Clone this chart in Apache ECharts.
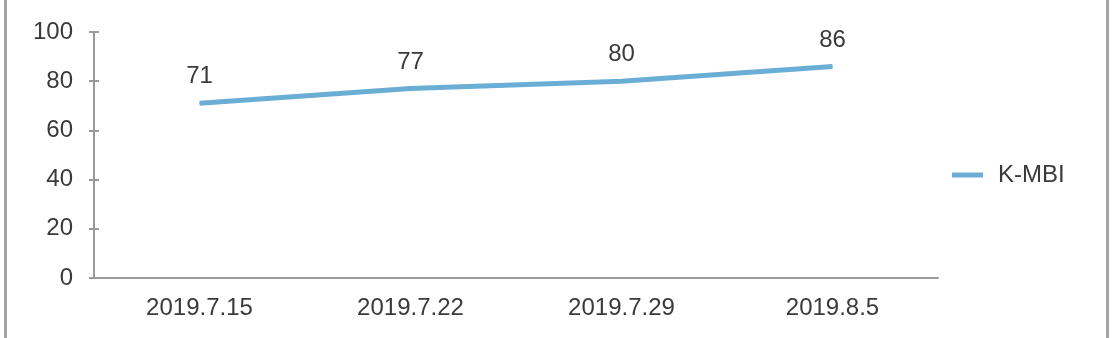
<!DOCTYPE html>
<html>
<head>
<meta charset="utf-8">
<script src="https://cdn.jsdelivr.net/npm/echarts@6/dist/echarts.min.js"></script>
<style>
	html, body { margin: 0; padding: 0; background: #fff; }
	#chart { width: 1113px; height: 338px; }
</style>
</head>
<body>
<div id="chart"></div>
<script>
const categories = ['2019.7.15', '2019.7.22', '2019.7.29', '2019.8.5'];
const kmbi = [71, 77, 80, 86];
const yTicks = { min: 0, max: 100, interval: 20 };

const font = "'Liberation Sans', Arial, sans-serif";
const axisGray = '#9a9a9a';
const lineBlue = '#6aaed6';
const textGray = '#3a3a3a';

let myChart = echarts.init(document.getElementById('chart'), null, { renderer: 'canvas' });

let option = {
	animation: false,
	backgroundColor: '#fff',
	textStyle: { fontFamily: font },
	grid: { left: 94, right: 175, top: 32, bottom: 60 },
	graphic: [
		{
			type: 'rect',
			left: 3,
			top: -5,
			shape: { width: 1102, height: 348 },
			style: { fill: 'none', stroke: '#a3a3a3', lineWidth: 3 },
			silent: true,
		},
	],
	legend: {
		data: ['K-MBI'],
		left: 947,
		top: 158,
		icon: 'rect',
		itemWidth: 31,
		itemHeight: 5,
		textStyle: { fontSize: 24, color: textGray, fontFamily: font, padding: [0, 0, 0, 10] },
	},
	xAxis: {
		type: 'category',
		data: categories,
		boundaryGap: true,
		axisLine: { lineStyle: { color: axisGray, width: 2 } },
		axisTick: { show: false },
		axisLabel: { fontSize: 24, color: textGray, margin: 18, fontFamily: font },
		splitLine: { show: false },
	},
	yAxis: [
		{
			type: 'value',
			min: yTicks.min,
			max: yTicks.max,
			interval: yTicks.interval,
			axisLine: { show: true, lineStyle: { color: axisGray, width: 2 } },
			axisTick: { show: true, length: 5, lineStyle: { color: axisGray, width: 2 } },
			axisLabel: { fontSize: 24, color: textGray, margin: 21, fontFamily: font },
			splitLine: { show: false },
		},
		{
			type: 'value',
			position: 'left',
			min: yTicks.min,
			max: yTicks.max,
			interval: yTicks.interval,
			axisLine: { show: false },
			axisTick: { show: true, inside: true, length: 5, lineStyle: { color: axisGray, width: 2 } },
			axisLabel: { show: false },
			splitLine: { show: false },
		},
	],
	series: [
		{
			name: 'K-MBI',
			type: 'line',
			data: kmbi,
			symbol: 'circle',
			symbolSize: 1,
			showSymbol: true,
			lineStyle: { color: lineBlue, width: 5 },
			itemStyle: { color: lineBlue },
			label: {
				show: true,
				position: 'top',
				distance: 14,
				fontSize: 24,
				color: textGray,
				fontFamily: font,
			},
		},
	],
};

myChart.setOption(option);
</script>
</body>
</html>
